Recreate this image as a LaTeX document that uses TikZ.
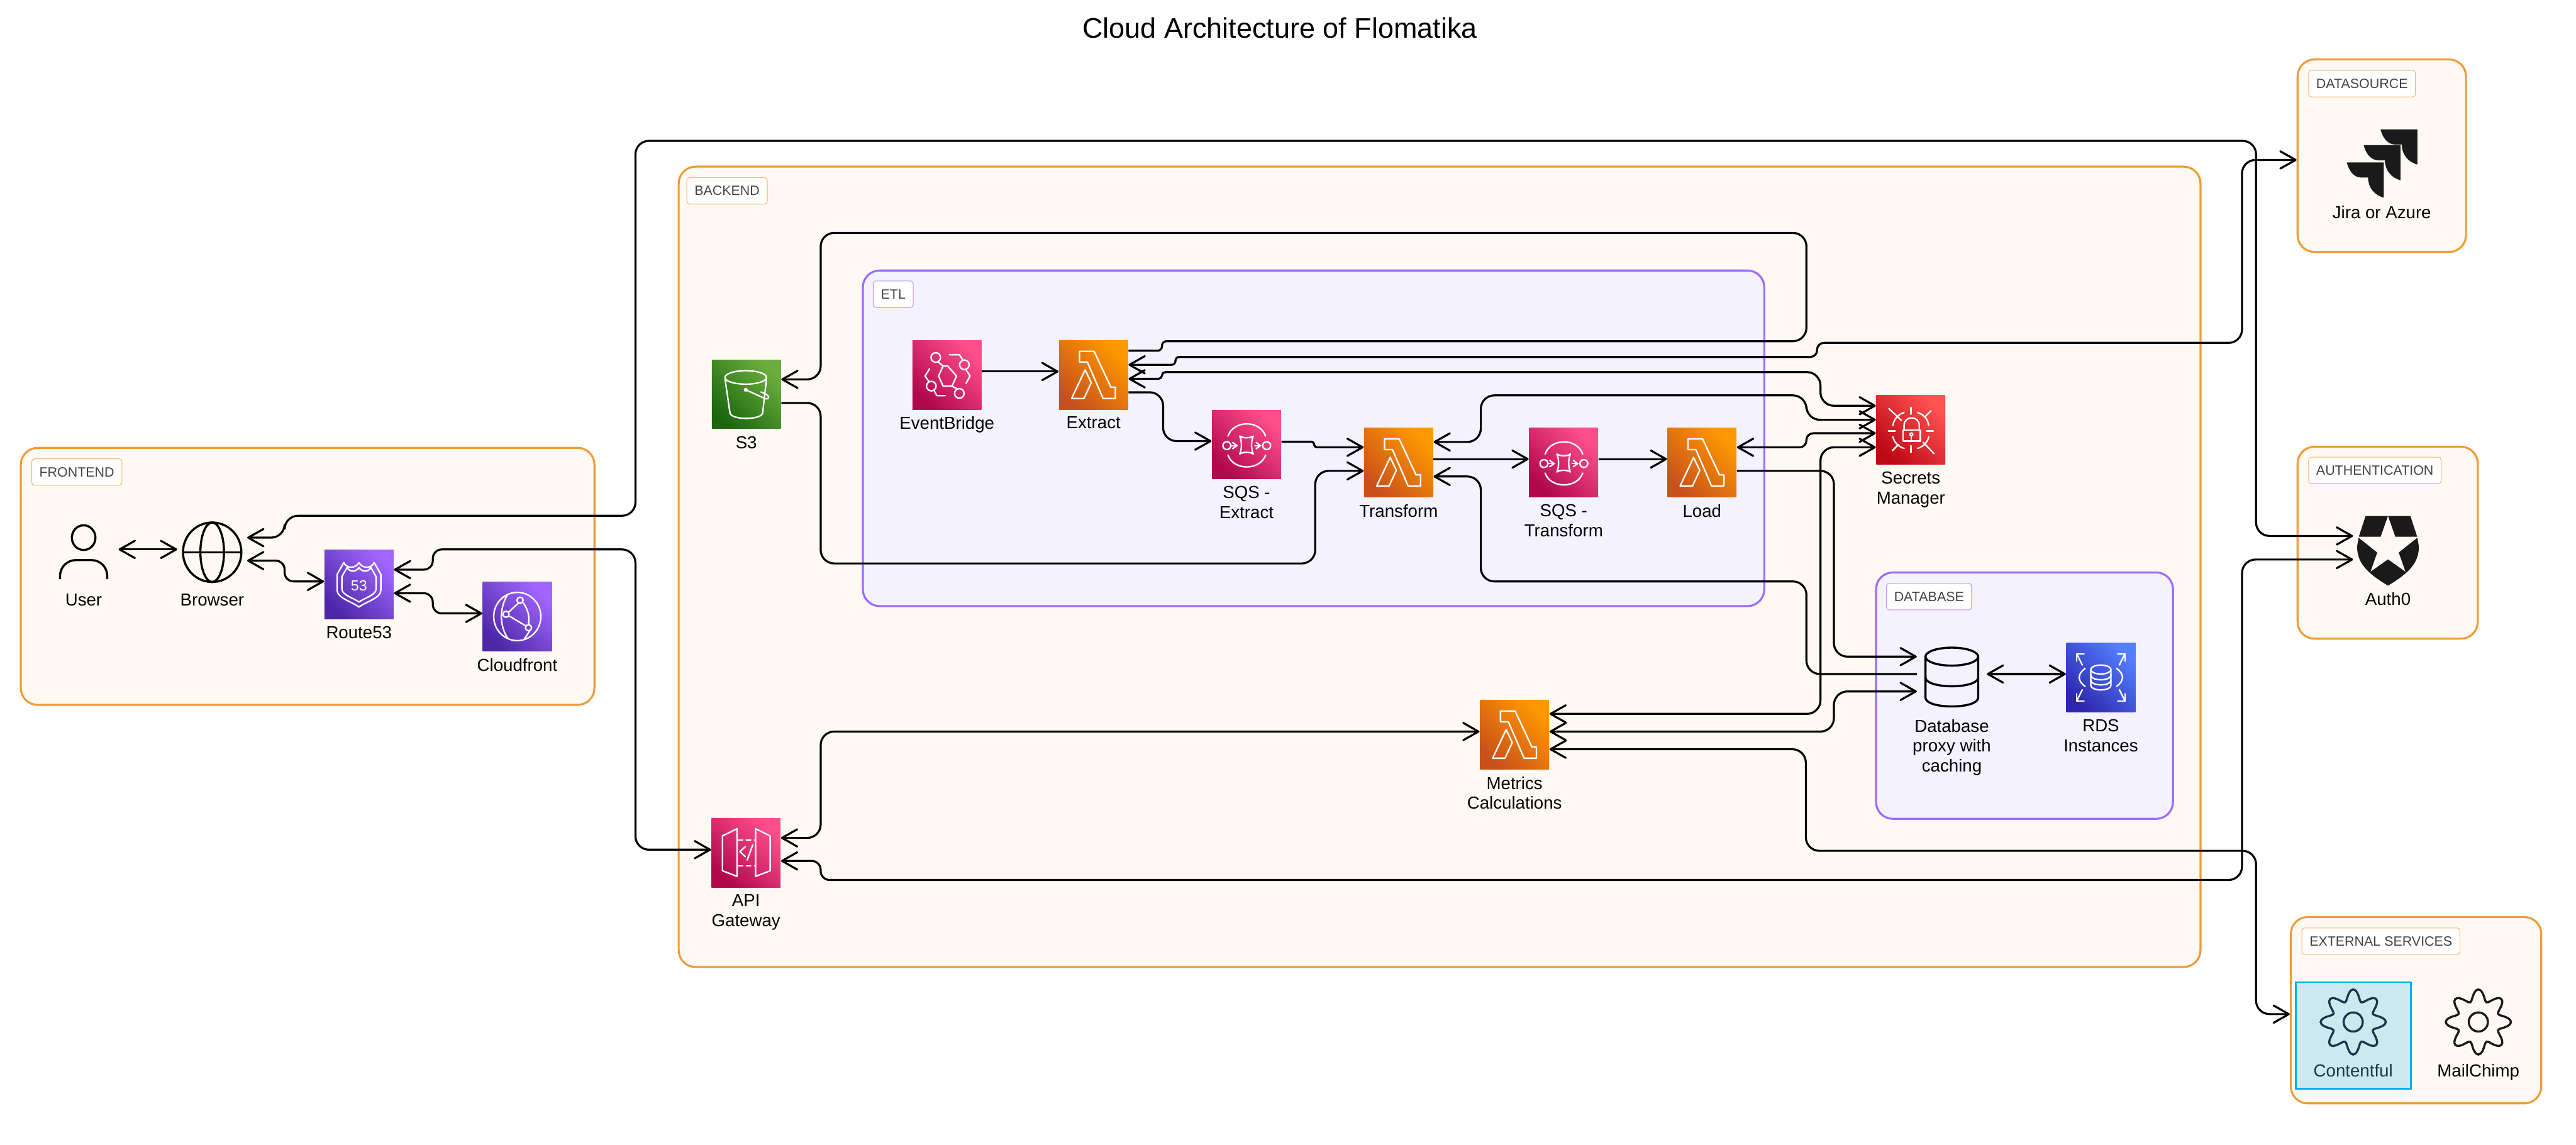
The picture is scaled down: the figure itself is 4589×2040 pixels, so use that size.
\documentclass[tikz,border=0pt]{standalone}
\usepackage{fontspec}
\setmainfont{Liberation Sans}
\usetikzlibrary{arrows.meta,calc}
\def\px{0.25pt}
\definecolor{orangeline}{HTML}{F09B38}
\definecolor{orangefill}{HTML}{FFF9F3}
\definecolor{purpleline}{HTML}{9D6BFF}
\definecolor{purplefill}{HTML}{F5F2FF}
\definecolor{taggray}{HTML}{444444}
\definecolor{inkdark}{HTML}{1A1A1A}
\definecolor{cyanline}{HTML}{00AEEF}
\definecolor{cyanfill}{HTML}{CCE9EF}
\definecolor{cyanink}{HTML}{16394D}
\definecolor{pinklow}{HTML}{B0084D}
\definecolor{pinkhigh}{HTML}{FF4F8B}
\definecolor{lambdalow}{HTML}{C8511B}
\definecolor{lambdahigh}{HTML}{FF9900}
\definecolor{violetlow}{HTML}{4D27A8}
\definecolor{violethigh}{HTML}{A166FF}
\definecolor{greenlow}{HTML}{1B660F}
\definecolor{greenhigh}{HTML}{6CAE3E}
\definecolor{redlow}{HTML}{BD0816}
\definecolor{redhigh}{HTML}{FF5252}
\definecolor{bluelow}{HTML}{2E27AD}
\definecolor{bluehigh}{HTML}{527FFF}
\tikzset{
  groupbox/.style 2 args={draw=#1,fill=#2,line width=0.9pt,rounded corners=7.5pt,inner sep=0pt},
  orangebox/.style={groupbox={orangeline}{orangefill}},
  purplebox/.style={groupbox={purpleline}{purplefill}},
  grouptag/.style={draw=#1!70,fill=white,line width=0.3pt,rounded corners=1.2pt,anchor=north west,
    minimum height=47*\px,inner xsep=3.4pt,inner ysep=0pt,text=taggray,font=\fontsize{6}{7}\selectfont},
  iconlabel/.style={align=center,inner sep=0pt,yshift=-2.9pt,font=\fontsize{7.75}{8.9}\selectfont,text=black},
  awsicon/.style 2 args={minimum size=123*\px,inner sep=0pt,bottom color=#1,top color=#2,shading angle=-45},
  blankicon/.style={minimum size=123*\px,inner sep=0pt},
  link/.style={line width=0.9pt,rounded corners=6pt},
  glyph/.style={draw=white,line width=0.65pt,line join=round,line cap=round},
  inkline/.style={draw=black,line width=0.95pt},
  lambdaglyph/.pic={
    \draw[glyph] (-25,-42) -- (1,-42) -- (31,22) -- (39,22) -- (39,42) -- (17,42) -- (-11,-23) -- (-25,-23) -- cycle;
    \draw[glyph] (-15,-9) -- (-4,14) -- (-17,42) -- (-39,42) -- cycle;
  },
  bucketglyph/.pic={
    \draw[glyph] (-1,-30) ellipse [x radius=37,y radius=12];
    \draw[glyph] (-38,-28) -- (-29,34) .. controls (-25,46) and (25,46) .. (29,34) -- (36,-28);
    \draw[glyph] (-1,-8) -- (34,8);
    \draw[glyph] (34,8) .. controls (44,9) and (42,1) .. (26,-4);
    \fill[white] (-1,-8) circle [radius=3.5];
  },
  bridgeglyph/.pic={
    \draw[glyph] (1,-16) -- (17,2) -- (9,20) -- (-7,20) -- (-15,2) -- (-7,-16) -- cycle;
    \foreach \a/\b in {-20/-31,31/-18,-28/20,22/33}{\draw[glyph] (\a,\b) circle [radius=8.5];}
    \draw[glyph] (-16,-23) -- (-7,-16);
    \draw[glyph] (9,20) -- (18,25);
    \draw[glyph] (4,-36) -- (22,-36) -- (28,-27);
    \draw[glyph] (34,-9) -- (41,2) -- (34,15);
    \draw[glyph] (-31,-11) -- (-39,2) -- (-32,12);
    \draw[glyph] (-23,28) -- (-18,37) -- (-3,37);
  },
  queueglyph/.pic={
    \draw[glyph] (-35,2) circle [radius=7];
    \draw[glyph] (36,2) circle [radius=7];
    \draw[glyph] (-12,-15) .. controls (-7,-11) and (7,-11) .. (12,-15) .. controls (8,-5) and (8,7) .. (12,17)
      .. controls (7,13) and (-7,13) .. (-12,17) .. controls (-8,7) and (-8,-5) .. (-12,-15) -- cycle;
    \draw[glyph,-{Straight Barb[length=2pt,width=3pt]}] (-27,2) -- (-15,2);
    \draw[glyph,-{Straight Barb[length=2pt,width=3pt]}] (15,2) -- (27,2);
    \draw[glyph] (-33,-15) .. controls (-23,-44) and (24,-44) .. (34,-15);
    \draw[glyph] (-33,19) .. controls (-23,47) and (24,47) .. (34,19);
  },
  shieldglyph/.pic={
    \draw[glyph] (-39,-18) -- (-27,-39) .. controls (-22,-28) and (-6,-28) .. (0,-39)
      .. controls (6,-28) and (22,-28) .. (27,-39) -- (39,-18) -- (39,10) .. controls (39,24) and (14,30) .. (0,40)
      .. controls (-14,30) and (-39,24) .. (-39,10) -- cycle;
    \draw[glyph,scale=0.78] (-39,-18) -- (-27,-39) .. controls (-22,-28) and (-6,-28) .. (0,-39)
      .. controls (6,-28) and (22,-28) .. (27,-39) -- (39,-18) -- (39,10) .. controls (39,24) and (14,30) .. (0,40)
      .. controls (-14,30) and (-39,24) .. (-39,10) -- cycle;
    \node[text=white,inner sep=0pt,font=\fontsize{6.5}{7}\selectfont] (code) at (0,2) {53};
  },
  cdnglyph/.pic={
    \draw[glyph] (0,0) ellipse [x radius=42,y radius=43];
    \foreach \a/\b in {5/-29,-20/-4,20/20}{\draw[glyph] (\a,\b) circle [radius=5.5];}
    \draw[glyph] (-18,-38) .. controls (-32,-14) and (-32,18) .. (-16,40);
    \draw[glyph] (2,-24) -- (-15,-8);
    \draw[glyph] (11,-24) .. controls (20,-10) and (22,0) .. (20,14);
    \draw[glyph] (-13,0) -- (14,16);
    \draw[glyph] (22,26) -- (12,41);
  },
  dbglyph/.pic={
    \draw[glyph] (0,-14) ellipse [x radius=18,y radius=8];
    \draw[glyph] (-18,-14) -- (-18,14) .. controls (-18,25) and (18,25) .. (18,14) -- (18,-14);
    \draw[glyph] (-18,-4) .. controls (-18,7) and (18,7) .. (18,-4);
    \draw[glyph] (-18,5) .. controls (-18,16) and (18,16) .. (18,5);
    \draw[glyph] (-28,-16) .. controls (-42,-6) and (-42,6) .. (-28,16);
    \draw[glyph] (28,-16) .. controls (42,-6) and (42,6) .. (28,16);
    \foreach \a/\b in {1/1,-1/1,1/-1,-1/-1}{
      \draw[glyph] (\a*43,\b*29) -- (\a*43,\b*42) -- (\a*30,\b*42);
      \draw[glyph] (\a*43,\b*42) -- (\a*33,\b*22);
    }
  },
  gateglyph/.pic={
    \draw[glyph] (-16,-43) -- (-42,-30) -- (-42,32) -- (-16,42) -- cycle;
    \draw[glyph] (17,-43) -- (43,-30) -- (43,32) -- (17,42) -- cycle;
    \draw[glyph,dashed,dash pattern=on 2pt off 1.6pt] (-14,-23) -- (17,-23);
    \draw[glyph,dashed,dash pattern=on 2pt off 1.6pt] (-14,23) -- (17,23);
    \draw[glyph] (-1,-11) -- (-11,-2) -- (-1,7);
    \draw[glyph] (12,-14) -- (2,13);
  },
  secretglyph/.pic={
    \draw[glyph] (-14,0) rectangle (17,20);
    \draw[glyph] (-12,0) -- (-12,-8) .. controls (-12,-26) and (15,-26) .. (15,-8) -- (15,0);
    \draw[glyph] (1,8) circle [radius=2.5];
    \draw[glyph] (1,11) -- (1,17);
    \draw[glyph] (-39,-38) -- (-17,-17);
    \draw[glyph] (36,-34) -- (25,-23);
    \draw[glyph] (-33,37) -- (-22,26);
    \draw[glyph] (22,22) -- (41,42);
    \draw[glyph] (0,-40) -- (0,-28);
    \draw[glyph] (0,28) -- (0,40);
    \draw[glyph] (-40,2) -- (-28,2);
    \draw[glyph] (28,2) -- (40,2);
    \draw[glyph] (-12,-31) .. controls (-22,-28) and (-30,-20) .. (-32,-8);
    \draw[glyph] (12,-31) .. controls (22,-28) and (30,-20) .. (32,-8);
    \draw[glyph] (-32,12) .. controls (-30,22) and (-22,30) .. (-12,33);
    \draw[glyph] (32,12) .. controls (30,22) and (22,30) .. (12,33);
  },
  personicon/.pic={
    \draw[inkline] (0,-26) ellipse [x radius=21,y radius=22];
    \draw[inkline,rounded corners=7pt] (-42,48) -- (-42,14) -- (42,14) -- (42,48);
  },
  globeicon/.pic={
    \draw[inkline] (0,0) ellipse [x radius=52,y radius=53];
    \draw[inkline] (0,0) ellipse [x radius=21,y radius=53];
    \draw[inkline] (-52,0) -- (52,0);
  },
  cylindericon/.pic={
    \draw[inkline] (0,-37) ellipse [x radius=47,y radius=16];
    \draw[inkline] (-47,-37) -- (-47,36) .. controls (-47,57) and (47,57) .. (47,36) -- (47,-37);
    \draw[inkline] (-47,0) .. controls (-47,21) and (47,21) .. (47,0);
  },
  gearicon/.pic={
    \draw[draw=#1,line width=0.95pt] plot[domain=0:360,samples=97,smooth] (\x:{48+10*cos(8*\x)}) -- cycle;
    \draw[draw=#1,line width=0.95pt] (0,0) circle [radius=17];
  },
  jiraicon/.pic={
    \foreach \a/\b in {-63/-3.5,-33/-34.5,-3/-62.5}{
      \fill[inkdark,draw=orangefill,line width=0.25pt,shift={(\a,\b)}] (0,0) -- (67,0) -- (67,64)
        .. controls (50,60) and (38,46) .. (38,28) -- (26,28) .. controls (12,28) and (3,14) .. (0,0) -- cycle;
    }
  },
  authicon/.pic={
    \fill[inkdark] (-40,-62) -- (40,-62) -- (52,-25) -- (55,-8) .. controls (55,20) and (40,38) .. (0,62)
      .. controls (-40,38) and (-55,20) .. (-55,-8) -- (-52,-25) -- cycle;
    \fill[orangefill] (0,-62) -- (13,-25) -- (54,-25) -- (19,3) -- (31,37) -- (0,15) -- (-31,37) -- (-19,3) -- (-54,-25) -- (-13,-25) -- cycle;
  },
}
\begin{document}
\begin{tikzpicture}[x=\px,y=-\px,>={Straight Barb[length=6.8pt,width=7.7pt,round]}]
  \useasboundingbox (0,0) rectangle (4589,2040);
  \node[font=\fontsize{12.6}{14}\selectfont] (title) at (2280,50) {Cloud Architecture of Flomatika};

  \node[orangebox,minimum width=1022*\px,minimum height=458*\px] (frontend) at (548,1027) {};
  \node[orangebox,minimum width=2711*\px,minimum height=1426*\px] (backend) at (2564.5,1010) {};
  \node[purplebox,minimum width=1606*\px,minimum height=598*\px] (etl) at (2340,781) {};
  \node[purplebox,minimum width=529*\px,minimum height=439*\px] (dbgroup) at (3606.5,1239.5) {};
  \node[orangebox,minimum width=300*\px,minimum height=343*\px] (datasource) at (4243,277.5) {};
  \node[orangebox,minimum width=321*\px,minimum height=342*\px] (authgroup) at (4253.5,967) {};
  \node[orangebox,minimum width=446*\px,minimum height=332*\px] (external) at (4304,1800) {};
  \node[draw=cyanline,fill=cyanfill,line width=0.7pt,minimum width=205*\px,minimum height=190*\px] (contentbox) at (4192.5,1845) {};

  \node[grouptag=orangeline] (frontendtag) at (56,817) {FRONTEND};
  \node[grouptag=orangeline] (backendtag) at (1223,316) {BACKEND};
  \node[grouptag=purpleline] (etltag) at (1555,500) {ETL};
  \node[grouptag=purpleline] (dbtag) at (3360,1039) {DATABASE};
  \node[grouptag=orangeline] (sourcetag) at (4112,125) {DATASOURCE};
  \node[grouptag=orangeline] (authtag) at (4112,814) {AUTHENTICATION};
  \node[grouptag=orangeline] (externaltag) at (4100,1653) {EXTERNAL SERVICES};

  \node[blankicon,label={[iconlabel]below:User}] (user) at (149,984) {};
  \node[blankicon,label={[iconlabel]below:Browser}] (browser) at (378,984) {};
  \node[awsicon={violetlow}{violethigh},label={[iconlabel]below:Route53}] (route) at (639.5,1041.5) {};
  \node[awsicon={violetlow}{violethigh},label={[iconlabel]below:Cloudfront}] (cloudfront) at (921.5,1098.5) {};
  \node[awsicon={greenlow}{greenhigh},label={[iconlabel]below:S3}] (bucket) at (1329.5,702.5) {};
  \node[awsicon={pinklow}{pinkhigh},label={[iconlabel]below:EventBridge}] (bridge) at (1687,668) {};
  \node[awsicon={lambdalow}{lambdahigh},label={[iconlabel]below:Extract}] (extract) at (1948,668) {};
  \node[awsicon={pinklow}{pinkhigh},label={[iconlabel]below:{SQS -\\Extract}}] (sqsextract) at (2220.5,792) {};
  \node[awsicon={lambdalow}{lambdahigh},label={[iconlabel]below:Transform}] (transform) at (2491.5,824) {};
  \node[awsicon={pinklow}{pinkhigh},label={[iconlabel]below:{SQS -\\Transform}}] (sqstransform) at (2785.5,824) {};
  \node[awsicon={lambdalow}{lambdahigh},label={[iconlabel]below:Load}] (load) at (3032,824) {};
  \node[awsicon={redlow}{redhigh},label={[iconlabel]below:{Secrets\\Manager}}] (secrets) at (3404,766) {};
  \node[blankicon,label={[iconlabel]below:{Database\\proxy with\\caching}}] (database) at (3477,1207) {};
  \node[awsicon={bluelow}{bluehigh},label={[iconlabel]below:{RDS\\Instances}}] (rds) at (3742.5,1207) {};
  \node[awsicon={lambdalow}{lambdahigh},label={[iconlabel]below:{Metrics\\Calculations}}] (metrics) at (2698,1309) {};
  \node[awsicon={pinklow}{pinkhigh},label={[iconlabel]below:{API\\Gateway}}] (gateway) at (1329,1519.5) {};
  \node[blankicon,label={[iconlabel]below:Jira or Azure}] (jira) at (4243,292.5) {};
  \node[blankicon,label={[iconlabel]below:Auth0}] (auth) at (4254,981.5) {};
  \node[blankicon,label={[iconlabel,text=cyanink]below:Contentful}] (contentful) at (4192,1821) {};
  \node[blankicon,label={[iconlabel]below:MailChimp}] (mailchimp) at (4415,1821) {};

  \foreach \a in {extract,transform,load,metrics}{\pic at (\a) {lambdaglyph};}
  \foreach \a in {sqsextract,sqstransform}{\pic at (\a) {queueglyph};}
  \pic at (user) {personicon};
  \pic at (browser) {globeicon};
  \pic at (route) {shieldglyph};
  \pic at (cloudfront) {cdnglyph};
  \pic at (bucket) {bucketglyph};
  \pic at (bridge) {bridgeglyph};
  \pic at (secrets) {secretglyph};
  \pic at (database) {cylindericon};
  \pic at (rds) {dbglyph};
  \pic at (gateway) {gateglyph};
  \pic at (jira) {jiraicon};
  \pic at (auth) {authicon};
  \pic at (contentful) {gearicon=cyanink};
  \pic at (mailchimp) {gearicon=inkdark};

  \draw[link,<->] ($(user.east)+(0,-5)$) -- ($(browser.west)+(0,-5)$);
  \draw[link,<->] ($(browser.east)+(0,-26)$) -| (507,919) -| (1132,251) -| (4019,955) -- ($(auth.west)+(0,-26.5)$);
  \draw[link,rounded corners=4pt,<->] ($(browser.east)+(0,15)$) -| (507,1036) -- ($(route.west)+(0,-5.5)$);
  \draw[link,rounded corners=4pt,<->] ($(route.east)+(0,-26.5)$) -| (771,979) [rounded corners=6pt] -| (1132,1514) -- ($(gateway.west)+(0,-5.5)$);
  \draw[link,rounded corners=4pt,<->] ($(route.east)+(0,15.5)$) -| (771,1093) -- ($(cloudfront.west)+(0,-5.5)$);
  \draw[link,rounded corners=2pt,->] ($(extract.east)+(0,-43)$) -| (2070,608) [rounded corners=6pt] -| (3218,415) -| (1462,676) -- ($(bucket.east)+(0,-26.5)$);
  \draw[link,rounded corners=1.7pt,<->] ($(extract.east)+(0,-18)$) -| (2094,636) [rounded corners=3pt] -| (3237,611) [rounded corners=6pt] -| (3994,285) -- ($(datasource.west)+(0,7.5)$);
  \draw[link,rounded corners=1.5pt,<->] ($(extract.east)+(0,7)$) -| (2070,663) [rounded corners=6pt] -| (3243,723) -- ($(secrets.west)+(0,-43)$);
  \draw[link,->] ($(extract.east)+(0,31)$) -| (2072,786) -- ($(sqsextract.west)+(0,-6)$);
  \draw[link,->] ($(bridge.east)+(0,-6)$) -- ($(extract.west)+(0,-6)$);
  \draw[link,rounded corners=1.2pt,->] ($(sqsextract.east)+(0,-5)$) -| (2341,797) -- ($(transform.west)+(0,-27)$);
  \draw[link,->] ($(bucket.east)+(0,15.5)$) -| (1462,1004) -| (2343,839) -- ($(transform.west)+(0,15)$);
  \draw[link,<->] ($(transform.east)+(0,-36.5)$) -| (2638,704.5) -| (3218,748) -- ($(secrets.west)+(0,-18)$);
  \draw[link,->] ($(transform.east)+(0,-6)$) -- ($(sqstransform.west)+(0,-6)$);
  \draw[link,->] ($(sqstransform.east)+(0,-6)$) -- ($(load.west)+(0,-6)$);
  \draw[link,<-] ($(transform.east)+(0,25)$) -| (2638,1036) -| (3218,1201) -- ($(database.west)+(0,-6)$);
  \draw[link,rounded corners=3pt,<->] ($(load.east)+(0,-27)$) -| (3218,772) -- ($(secrets.west)+(0,6)$);
  \draw[link,->] ($(load.east)+(0,15)$) -| (3267,1170) -- ($(database.west)+(0,-37)$);
  \draw[link,<->] ($(secrets.west)+(0,31)$) -| (3243,1272) -- ($(metrics.east)+(0,-37)$);
  \draw[link,<->] ($(metrics.east)+(0,-5.5)$) -| (3267,1232) -- ($(database.west)+(0,25)$);
  \draw[link,<->] ($(metrics.east)+(0,26)$) -| (3217,1516) -| (4019,1807) -- ($(external.west)+(0,7)$);
  \draw[link,<->] ($(metrics.west)+(0,-5.5)$) -| (1462,1493) -- ($(gateway.east)+(0,-26.5)$);
  \draw[link,rounded corners=4pt,<->] ($(gateway.east)+(0,14.5)$) -| (1462,1568) [rounded corners=6pt] -| (3994,997) -- ($(auth.west)+(0,15.5)$);
  \draw[link,<->] ($(database.east)+(0,-6)$) -- ($(rds.west)+(0,-6)$);
\end{tikzpicture}
\end{document}
